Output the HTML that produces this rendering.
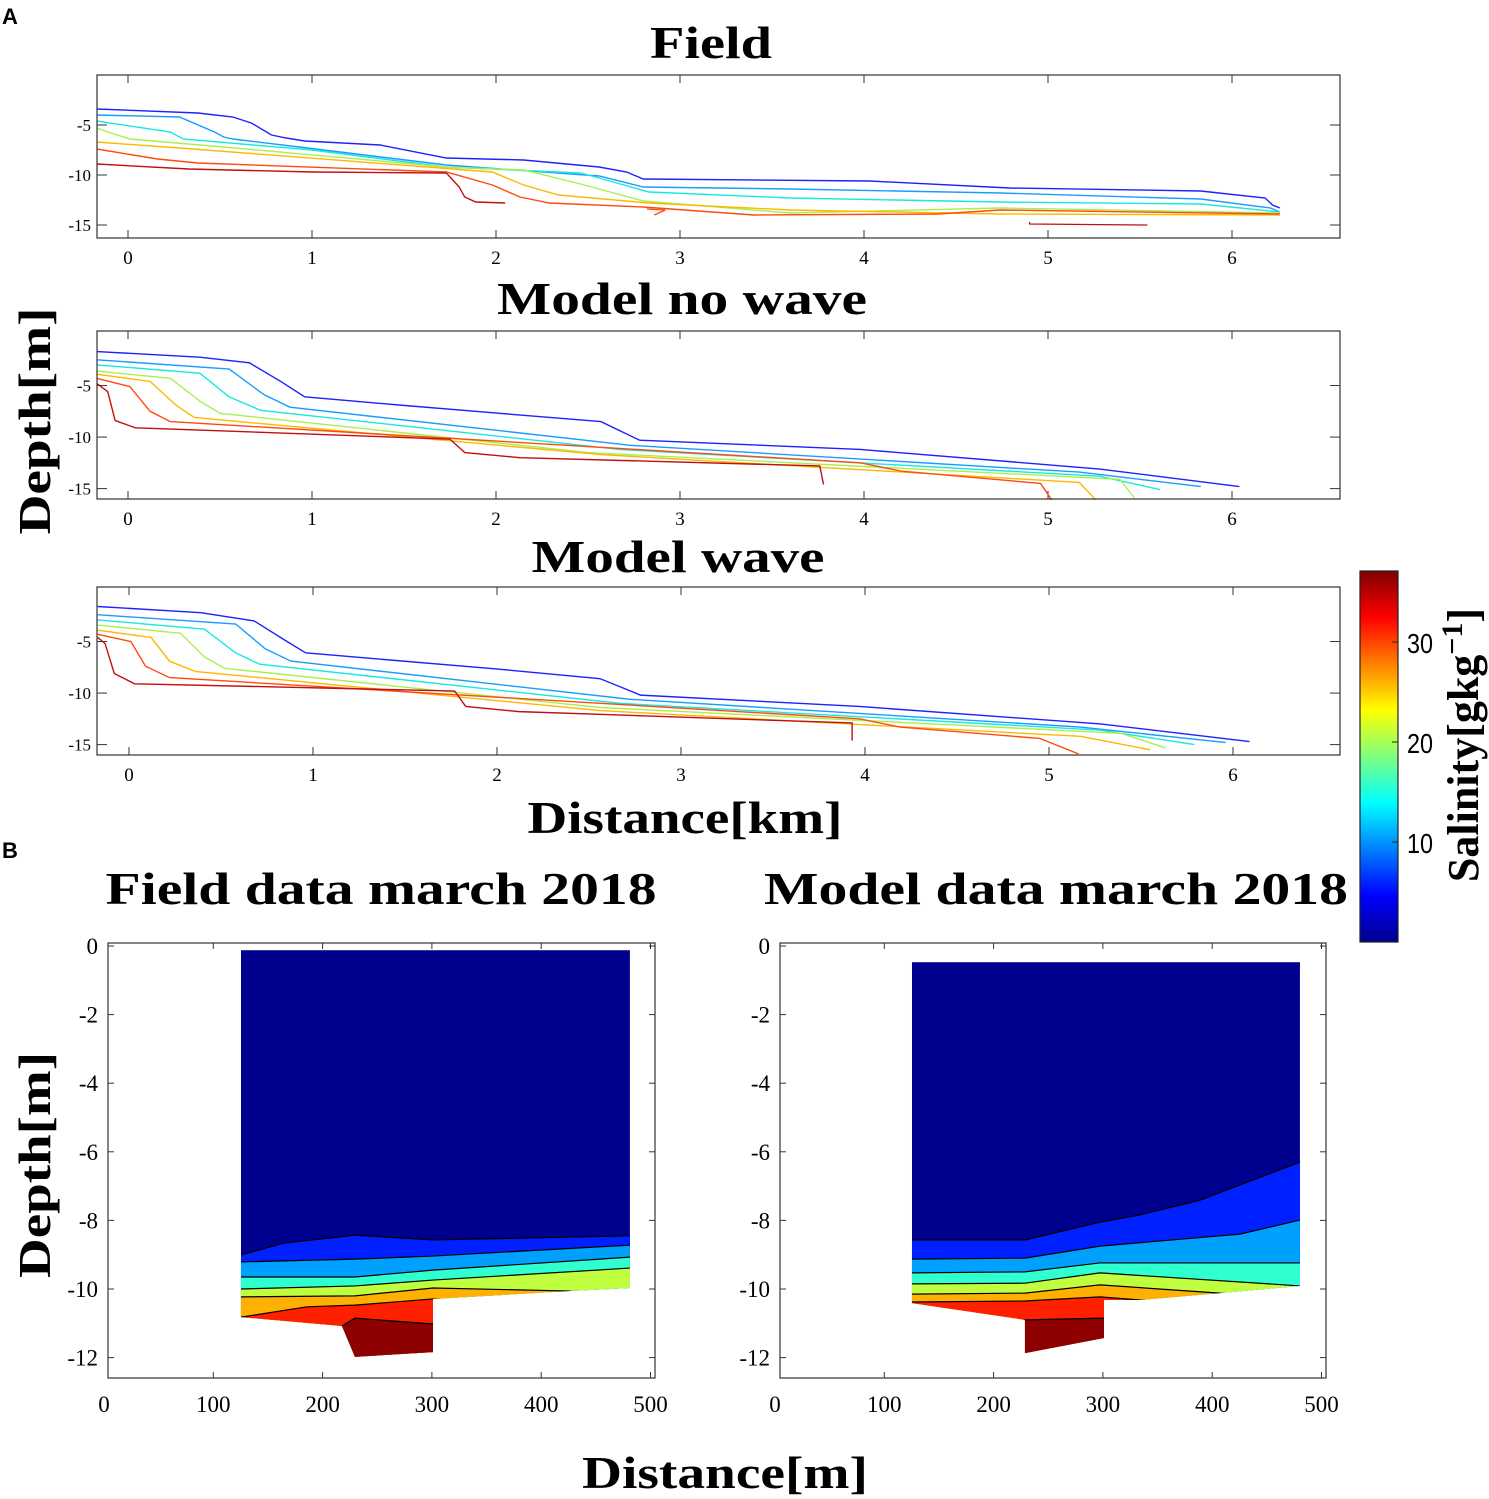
<!DOCTYPE html>
<html><head><meta charset="utf-8">
<style>
html,body{margin:0;padding:0;background:#fff;}
svg{display:block;font-family:"Liberation Serif",serif;}
</style></head>
<body>
<svg id="fig" width="1489" height="1499" viewBox="0 0 1489 1499" xmlns="http://www.w3.org/2000/svg">
<defs>
<linearGradient id="jet" x1="0" y1="1" x2="0" y2="0">
<stop offset="0" stop-color="#00008f"/><stop offset="0.125" stop-color="#0000ff"/>
<stop offset="0.375" stop-color="#00ffff"/><stop offset="0.625" stop-color="#ffff00"/>
<stop offset="0.875" stop-color="#ff0000"/><stop offset="1" stop-color="#800000"/>
</linearGradient>
</defs>
<text x="2" y="24" font-family="Liberation Sans, sans-serif" font-weight="bold" font-size="22">A</text>
<text x="2" y="858" font-family="Liberation Sans, sans-serif" font-weight="bold" font-size="22">B</text>
<g id="layer"></g>
</svg>
<script>
// ---------- Panel A data (distance km, depth m) ----------
const lineColors = ["#2020ff","#1a9cff","#18e8e0","#a8f050","#ffb800","#ff4a10","#c01010"];
const xTicksKm = [0,1,2,3,4,5,6];
const yTicksA = [-5,-10,-15];
const fieldLines = [
 [[-0.17,-3.4],[0.38,-3.8],[0.57,-4.2],[0.67,-4.8],[0.78,-6.0],[0.86,-6.3],[0.96,-6.6],[1.37,-7.0],[1.73,-8.3],[2.15,-8.5],[2.56,-9.2],[2.71,-9.7],[2.8,-10.4],[4.03,-10.6],[4.79,-11.3],[5.83,-11.6],[6.18,-12.3],[6.22,-13.0],[6.26,-13.3]],
 [[-0.17,-4.0],[0.28,-4.2],[0.47,-5.7],[0.52,-6.2],[0.57,-6.4],[0.93,-7.2],[1.73,-9.0],[2.56,-10.1],[2.8,-11.2],[3.6,-11.4],[4.74,-11.8],[5.83,-12.4],[6.21,-13.3],[6.26,-13.7]],
 [[-0.17,-4.6],[0.23,-5.7],[0.3,-6.4],[1.0,-7.5],[1.73,-9.2],[2.46,-9.8],[2.56,-10.3],[2.83,-11.7],[3.6,-12.3],[4.74,-12.7],[5.83,-12.9],[6.26,-13.7]],
 [[-0.17,-5.3],[-0.11,-5.7],[0.01,-6.4],[0.52,-7.2],[1.73,-9.2],[2.15,-9.5],[2.46,-10.9],[2.8,-12.6],[3.6,-13.8],[4.74,-13.3],[6.26,-13.8]],
 [[-0.17,-6.7],[0.28,-7.3],[1.98,-9.7],[2.15,-11.0],[2.34,-12.0],[2.83,-12.8],[3.6,-13.5],[4.74,-13.9],[6.26,-14.0]],
 [[-0.17,-7.4],[0.16,-8.4],[0.38,-8.8],[1.73,-9.7],[1.98,-11.0],[2.13,-12.2],[2.29,-12.8],[2.8,-13.2],[3.4,-14.0],[4.4,-13.9],[4.74,-13.5],[6.26,-13.9]],
 [[-0.17,-8.9],[0.33,-9.4],[1.0,-9.7],[1.73,-9.8],[1.8,-11.2],[1.83,-12.2],[1.89,-12.7],[2.05,-12.8]]
];
const fieldExtra = [[[4.9,-14.7],[4.9,-14.9],[5.54,-15.0]],[[2.82,-13.4],[2.92,-13.5],[2.86,-14.0]]];
const noWaveLines = [
 [[-0.17,-1.7],[0.39,-2.25],[0.66,-2.8],[0.83,-4.6],[0.96,-6.1],[1.48,-6.9],[2.02,-7.7],[2.57,-8.5],[2.78,-10.3],[3.98,-11.2],[5.28,-13.1],[6.04,-14.8]],
 [[-0.17,-2.5],[0.55,-3.4],[0.74,-5.9],[0.88,-7.1],[2.73,-10.8],[5.17,-13.4],[5.83,-14.8]],
 [[-0.17,-3.0],[0.39,-3.8],[0.55,-6.1],[0.72,-7.4],[2.67,-11.2],[5.28,-13.8],[5.61,-15.1]],
 [[-0.17,-3.6],[0.23,-4.3],[0.39,-6.5],[0.5,-7.7],[2.5,-11.5],[5.39,-14.1],[5.47,-15.9]],
 [[-0.17,-3.9],[0.12,-4.6],[0.26,-6.9],[0.36,-8.1],[2.57,-11.7],[5.17,-14.4],[5.26,-16.1]],
 [[-0.17,-4.3],[0.01,-5.1],[0.12,-7.5],[0.23,-8.5],[3.98,-12.5],[4.2,-13.3],[4.96,-14.5],[5.02,-16.1]],
 [[-0.17,-4.8],[-0.11,-5.6],[-0.07,-8.4],[0.04,-9.1],[1.75,-10.2],[1.83,-11.5],[2.13,-12.0],[3.76,-12.8],[3.78,-14.6]]
];
const waveLines = [
 [[-0.17,-1.6],[0.39,-2.2],[0.68,-3.0],[0.85,-4.9],[0.96,-6.1],[2.02,-7.7],[2.56,-8.6],[2.78,-10.2],[3.97,-11.3],[5.28,-13.0],[6.09,-14.7]],
 [[-0.17,-2.4],[0.58,-3.3],[0.74,-5.7],[0.88,-6.9],[2.72,-10.6],[5.17,-13.3],[5.96,-14.8]],
 [[-0.17,-2.9],[0.41,-3.8],[0.58,-6.1],[0.71,-7.2],[2.67,-11.0],[5.28,-13.6],[5.79,-15.0]],
 [[-0.17,-3.4],[0.28,-4.2],[0.41,-6.5],[0.52,-7.6],[2.56,-11.4],[5.39,-13.9],[5.63,-15.3]],
 [[-0.17,-3.9],[0.12,-4.6],[0.22,-6.9],[0.36,-7.9],[2.56,-11.7],[5.17,-14.2],[5.55,-15.5]],
 [[-0.17,-4.3],[0.01,-5.0],[0.09,-7.4],[0.22,-8.5],[3.97,-12.5],[4.19,-13.3],[4.95,-14.4],[5.16,-15.9]],
 [[-0.17,-4.6],[-0.13,-5.2],[-0.08,-8.1],[0.03,-9.1],[1.77,-9.8],[1.83,-11.3],[2.12,-11.8],[3.93,-12.9],[3.93,-14.6]]
];
// ---------- Panel B data (distance m, depth m) ----------
const bandColors = ["#00008f","#0020ff","#00a0ff","#30ffd0","#c0ff40","#ffb000","#ff2000","#8f0000"];
const xTicksM = [0,100,200,300,400,500];
const yTicksB = [0,-2,-4,-6,-8,-10,-12];
const fieldTop = -0.12;
const fieldExtent = [[125.3,-10.82],[217.7,-11.08],[229.6,-11.98],[301,-11.84],[301,-10.29],[426.3,-10.06],[481.2,-9.97]];
const fieldBounds = [
 [[125.3,-9.01],[164.7,-8.66],[229.6,-8.43],[301,-8.57],[481.2,-8.45]],
 [[125.3,-9.21],[164.7,-9.18],[229.6,-9.13],[301,-9.04],[481.2,-8.72]],
 [[125.3,-9.65],[229.6,-9.65],[301,-9.45],[481.2,-9.07]],
 [[125.3,-10.0],[229.6,-9.91],[301,-9.74],[481.2,-9.39]],
 [[125.3,-10.23],[229.6,-10.2],[301,-9.97],[426.3,-10.06],[481.2,-10.3]],
 [[125.3,-10.82],[185.7,-10.52],[229.6,-10.47],[301,-10.29],[481.2,-10.6]],
 [[125.3,-12.5],[217.7,-11.08],[229.6,-10.85],[301,-11.02],[481.2,-11.2]]
];
const modelTop = -0.47;
const modelExtent = [[125.3,-10.41],[228.7,-10.9],[228.7,-11.87],[301,-11.43],[301,-10.32],[333.9,-10.32],[406.9,-10.12],[480.3,-9.91]];
const modelBounds = [
 [[125.3,-8.57],[228.7,-8.57],[297.3,-8.05],[333.9,-7.84],[388.8,-7.41],[480.3,-6.3]],
 [[125.3,-9.13],[228.7,-9.1],[297.3,-8.75],[425.4,-8.4],[480.3,-7.99]],
 [[125.3,-9.53],[228.7,-9.5],[297.3,-9.24],[480.3,-9.24]],
 [[125.3,-9.85],[228.7,-9.83],[297.3,-9.53],[480.3,-9.91]],
 [[125.3,-10.15],[228.7,-10.12],[297.3,-9.88],[406.9,-10.12],[480.3,-10.3]],
 [[125.3,-10.38],[228.7,-10.35],[297.3,-10.23],[333.9,-10.32],[480.3,-10.5]],
 [[125.3,-12.5],[228.7,-10.9],[301,-10.85],[480.3,-11.0]]
];
const cbTicks = [10,20,30];

const NS="http://www.w3.org/2000/svg";
const root=document.getElementById('layer');
function mk(tag,attrs,parent){const e=document.createElementNS(NS,tag);for(const k in attrs)e.setAttribute(k,attrs[k]);(parent||root).appendChild(e);return e;}

function panelA(top,H,y0,x0km,name,lines,extra){
  const L=97,R=1340,T=top;
  const sx=k=>x0km+k*184;
  const sy=d=>y0+(-d)*(H/16.3);
  const g=mk('g',{});
  
  
  xTicksKm.forEach(k=>{
    const x=sx(k);
    mk('line',{x1:x,x2:x,y1:T,y2:T+8,stroke:'#333','stroke-width':1},g);
    mk('line',{x1:x,x2:x,y1:T+H,y2:T+H-8,stroke:'#333','stroke-width':1},g);
    const t=mk('text',{x:x,y:T+H+26,'text-anchor':'middle','font-size':19},g);
    t.textContent=k;
    
    
  });
  yTicksA.forEach(d=>{
    const y=sy(d);
    mk('line',{x1:L,x2:L+10,y1:y,y2:y,stroke:'#333','stroke-width':1},g);
    mk('line',{x1:R,x2:R-10,y1:y,y2:y,stroke:'#333','stroke-width':1},g);
    const t=mk('text',{x:L-6,y:y+6,'text-anchor':'end','font-size':17},g);
    t.textContent=d;
    
    
  });
  lines.forEach((ln,i)=>{
    const p=mk('polyline',{points:ln.map(q=>sx(q[0])+','+sy(q[1])).join(' '),fill:'none',stroke:lineColors[i],'stroke-width':1.4},g);
    
    
  });
  (extra||[]).forEach((ln,i)=>{
    const p=mk('polyline',{points:ln.map(q=>sx(q[0])+','+sy(q[1])).join(' '),fill:'none',stroke:i==0?'#c01010':'#ff4a10','stroke-width':1.3},g);
    
    
  });
  const b=mk('rect',{x:L,y:T,width:R-L,height:H,fill:'none',stroke:'#333','stroke-width':1.2},g);
  
  
}
function panelB(L,R,x0,name,top,extent,bounds,cid){
  const T=943,B=1378;
  const sx=m=>x0+m*1.093;
  const sy=d=>946+(-d)*34.3;
  const g=mk('g',{});
  
  
  const cp=mk('clipPath',{id:cid},g);
  const ext=[[extent[0][0],top],[extent[extent.length-1][0],top]].concat(extent.slice().reverse());
  mk('polygon',{points:ext.map(q=>sx(q[0])+','+sy(q[1])).join(' ')},cp);
  const fg=mk('g',{'clip-path':'url(#'+cid+')'},g);
  const r=mk('polygon',{points:ext.map(q=>sx(q[0])+','+sy(q[1])).join(' '),fill:bandColors[0]},fg);
  
  
  bounds.forEach((bd,i)=>{
    const pts=bd.concat([[bd[bd.length-1][0]+5,-13],[bd[0][0]-5,-13]]);
    const p=mk('polygon',{points:pts.map(q=>sx(q[0])+','+sy(q[1])).join(' '),fill:bandColors[i+1]},fg);
    
    
    const l=mk('polyline',{points:bd.map(q=>sx(q[0])+','+sy(q[1])).join(' '),fill:'none',stroke:'#000','stroke-width':1.2},fg);
    
    
  });
  xTicksM.forEach(m=>{
    const x=sx(m);
    if(x>L+2&&x<R-2){
      mk('line',{x1:x,x2:x,y1:T,y2:T+6,stroke:'#333'},g);
      mk('line',{x1:x,x2:x,y1:B,y2:B-6,stroke:'#333'},g);
    }
    const t=mk('text',{x:x,y:B+34,'text-anchor':'middle','font-size':23},g);
    t.textContent=m;
    
    
  });
  yTicksB.forEach(d=>{
    const y=sy(d);
    mk('line',{x1:L,x2:L+6,y1:y,y2:y,stroke:'#333'},g);
    mk('line',{x1:R,x2:R-6,y1:y,y2:y,stroke:'#333'},g);
    const t=mk('text',{x:L-10,y:y+8,'text-anchor':'end','font-size':23},g);
    t.textContent=d;
    
    
  });
  const b=mk('rect',{x:L,y:T,width:R-L,height:B-T,fill:'none',stroke:'#333','stroke-width':1.2},g);
  
  
}
function title(txt,cx,cy,w,size,name,rot){
  const a={x:cx,y:cy,'text-anchor':'middle','font-size':size,'font-weight':'bold',textLength:w,lengthAdjust:'spacingAndGlyphs'};
  if(rot)a.transform='rotate(-90 '+cx+' '+cy+')';
  const t=mk('text',a);
  t.textContent=txt;
  
  
}
panelA(75,163,75,128,'field-panel',fieldLines,fieldExtra);
panelA(331,168,334,128,'model-no-wave-panel',noWaveLines);
panelA(587,168,590,129,'model-wave-panel',waveLines);
panelB(108,655,104,'field-data-panel',fieldTop,fieldExtent,fieldBounds,'c1');
panelB(780,1326,775,'model-data-panel',modelTop,modelExtent,modelBounds,'c2');

title('Field',711,58,122,46,'field-title');
title('Model no wave',682,314,370,46,'model-no-wave-title');
title('Model wave',678,572,293,46,'model-wave-title');
title('Distance[km]',685,833,315,46,'x-axis-title-km');
title('Depth[m]',50,421,227,46,'y-axis-title-a',true);
title('Field data march 2018',381,904,551,46,'field-data-title');
title('Model data march 2018',1056,904,584,46,'model-data-title');
title('Distance[m]',725,1488,286,46,'x-axis-title-m');
title('Depth[m]',50,1165,226,46,'y-axis-title-b',true);

// colorbar
const cb=mk('rect',{x:1360,y:571,width:38,height:371,fill:'url(#jet)',stroke:'#222','stroke-width':1.2});


const cbY=v=>942-v*10;
cbTicks.forEach(v=>{
  mk('line',{x1:1392,x2:1398,y1:cbY(v),y2:cbY(v),stroke:'#222'});
  const t=mk('text',{x:1407,y:cbY(v)+11,'font-size':28,'font-family':'Liberation Sans Narrow, Liberation Sans, sans-serif',textLength:26,lengthAdjust:'spacingAndGlyphs'});
  t.textContent=v;
  
  
});
const cl=mk('text',{x:1478,y:745,'text-anchor':'middle','font-size':44,'font-weight':'bold',transform:'rotate(-90 1478 745)'});


cl.innerHTML='Salinity[gkg<tspan font-size="30" dy="-16">−1</tspan><tspan dy="16">]</tspan>';
</script>
</body></html>
